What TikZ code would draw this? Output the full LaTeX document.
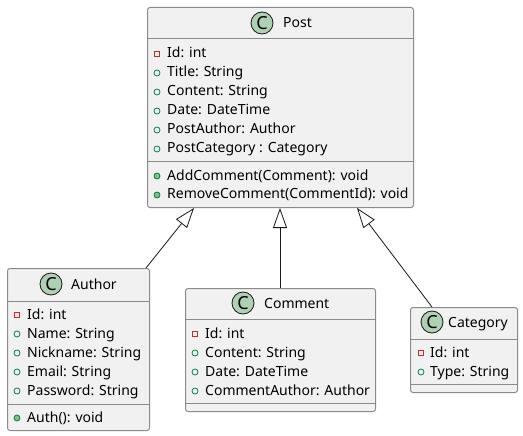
\documentclass[tikz,border=0pt]{standalone}
\usepackage{fontspec}
\setmainfont{Noto Sans}
\usetikzlibrary{arrows.meta,calc}
\definecolor{boxfill}{HTML}{F1F1F1}
\definecolor{boxline}{HTML}{181818}
\definecolor{boxgray}{HTML}{8A8A8A}
\definecolor{cfill}{HTML}{ADD1B2}
\definecolor{privred}{HTML}{C82930}
\definecolor{pubgreen}{HTML}{038048}
\definecolor{methgreen}{HTML}{84BE84}
\tikzset{
  classbox/.style={draw=boxgray, fill=boxfill, line width=1pt, rounded corners=2.5pt, anchor=north west, inner sep=0pt},
  sepline/.style={draw=boxgray, line width=1pt},
  member/.style={anchor=base west, inner sep=0pt, font=\fontsize{14}{16}\selectfont, text=black},
  title/.style={anchor=base west, inner sep=0pt, font=\fontsize{14}{16}\selectfont, text=black},
  cmark/.style={circle, draw=boxline, fill=cfill, line width=0.8pt, minimum size=22pt, inner sep=0pt, font=\fontsize{18}{18}\selectfont\bfseries},
  privmark/.style={rectangle, draw=privred, line width=0.8pt, minimum size=5.5pt, inner sep=0pt},
  pubmark/.style={circle, draw=pubgreen, line width=0.8pt, minimum size=6pt, inner sep=0pt},
  methmark/.style={circle, draw=pubgreen, fill=methgreen, line width=0.8pt, minimum size=6pt, inner sep=0pt},
  inherit/.style={draw=boxline, line width=0.8pt, -{Triangle[open, length=20pt, width=14pt, fill=white]}},
}
\begin{document}
\begin{tikzpicture}[x=1pt,y=-1pt]
\useasboundingbox (0,0) rectangle (523,436);
% ---------- Post ----------
\node[classbox, minimum width=266pt, minimum height=200pt] (post) at (147,7) {};
\draw[sepline] (147,39) -- (413,39);
\draw[sepline] (147,162) -- (413,162);
\node[cmark] (postc) at (262,23) {C};
\node[title] (postt) at (283,28) {Post};
\node[privmark] (p1m) at (157,54) {};
\node[member] (p1) at (167,58) {Id: int};
\node[pubmark] (p2m) at (157,73) {};
\node[member] (p2) at (167,77) {Title: String};
\node[pubmark] (p3m) at (157,92) {};
\node[member] (p3) at (167,96) {Content: String};
\node[pubmark] (p4m) at (157,111) {};
\node[member] (p4) at (167,115) {Date: DateTime};
\node[pubmark] (p5m) at (157,130) {};
\node[member] (p5) at (167,134) {PostAuthor: Author};
\node[pubmark] (p6m) at (157,149) {};
\node[member] (p6) at (167,153) {PostCategory : Category};
\node[methmark] (p7m) at (157,176) {};
\node[member] (p7) at (167,180) {AddComment(Comment): void};
\node[methmark] (p8m) at (157,195) {};
\node[member] (p8) at (167,199) {RemoveComment(CommentId): void};
% ---------- Author ----------
\node[classbox, minimum width=142pt, minimum height=162pt] (author) at (7,268) {};
\draw[sepline] (7,301) -- (149,301);
\draw[sepline] (7,404) -- (149,404);
\node[cmark] (authc) at (51,284) {C};
\node[title] (autht) at (71,289) {Author};
\node[privmark] (a1m) at (17,315) {};
\node[member] (a1) at (27,319) {Id: int};
\node[pubmark] (a2m) at (17,334) {};
\node[member] (a2) at (27,338) {Name: String};
\node[pubmark] (a3m) at (17,353) {};
\node[member] (a3) at (27,357) {Nickname: String};
\node[pubmark] (a4m) at (17,372) {};
\node[member] (a4) at (27,376) {Email: String};
\node[pubmark] (a5m) at (17,391) {};
\node[member] (a5) at (27,395) {Password: String};
\node[methmark] (a6m) at (17,418) {};
\node[member] (a6) at (27,422) {Auth(): void};
% ---------- Comment ----------
\node[classbox, minimum width=190pt, minimum height=123pt] (comment) at (185,288) {};
\draw[sepline] (185,319) -- (375,319);
\draw[sepline] (185,403) -- (375,403);
\node[cmark] (comc) at (243,303) {C};
\node[title] (comt) at (264,308) {Comment};
\node[privmark] (c1m) at (195,334) {};
\node[member] (c1) at (205,338) {Id: int};
\node[pubmark] (c2m) at (195,353) {};
\node[member] (c2) at (205,357) {Content: String};
\node[pubmark] (c3m) at (195,372) {};
\node[member] (c3) at (205,376) {Date: DateTime};
\node[pubmark] (c4m) at (195,391) {};
\node[member] (c4) at (205,395) {CommentAuthor: Author};
% ---------- Category ----------
\node[classbox, minimum width=107pt, minimum height=85pt] (category) at (410,307) {};
\draw[sepline] (410,339) -- (517,339);
\draw[sepline] (410,384) -- (517,384);
\node[cmark] (catc) at (432,322) {C};
\node[title] (catt) at (448,327) {Category};
\node[privmark] (k1m) at (421,353) {};
\node[member] (k1) at (430,357) {Id: int};
\node[pubmark] (k2m) at (421,372) {};
\node[member] (k2) at (430,376) {Type: String};
% ---------- Inheritance ----------
\draw[inherit] ($(author.north east)+(-4,0)$) -- ($(post.south west)+(47,0)$);
\draw[inherit] ($(comment.north west)+(95,0)$) -- ($(post.south west)+(133,0)$);
\draw[inherit] ($(category.north west)+(22,0)$) -- ($(post.south west)+(210,0)$);
\end{tikzpicture}
\end{document}
